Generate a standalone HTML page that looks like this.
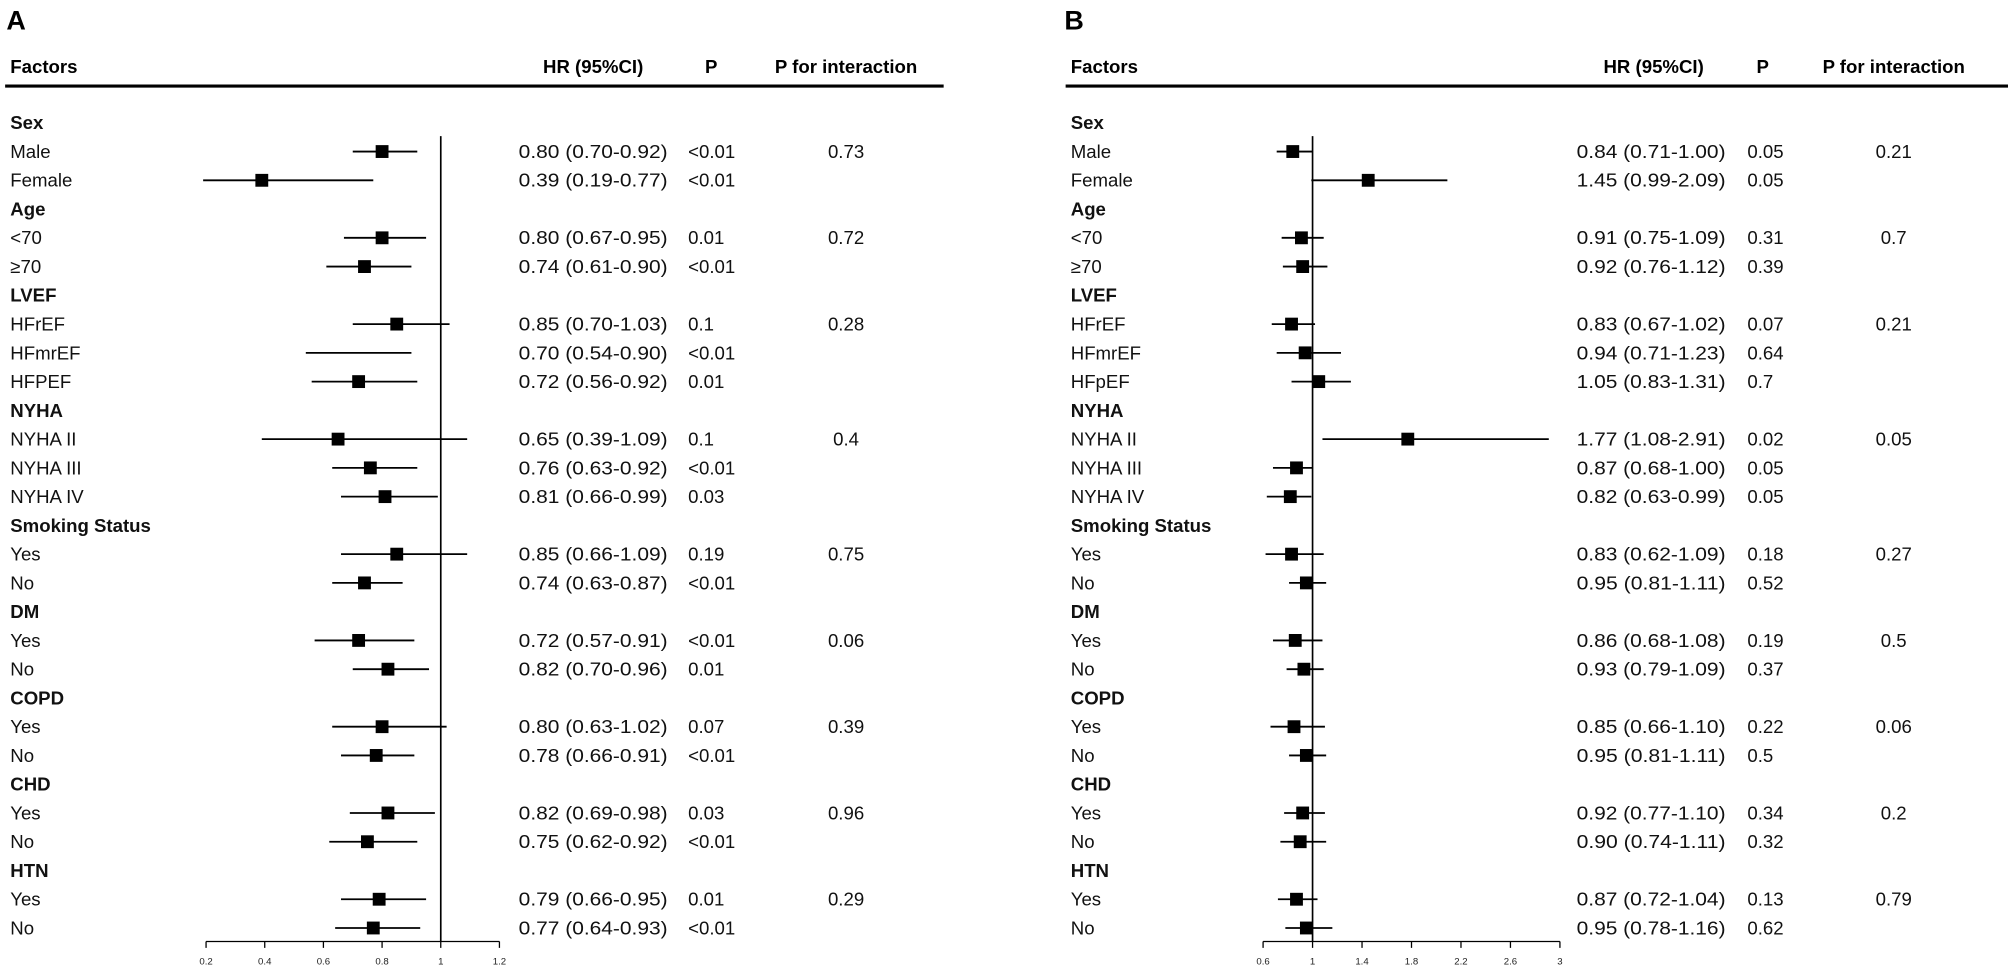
<!DOCTYPE html>
<html><head><meta charset="utf-8"><style>
html,body{margin:0;padding:0;background:#fff;}
svg{display:block;font-family:"Liberation Sans",Arial,sans-serif;}
</style></head><body>
<svg id="chart" width="2008" height="971" viewBox="0 0 1564 756" preserveAspectRatio="none" xmlns="http://www.w3.org/2000/svg"></svg>
<script>
const rowLabels = ["Sex","Male","Female","Age","<70","≥70","LVEF","HFrEF","HFmrEF","HFPEF","NYHA","NYHA II","NYHA III","NYHA IV","Smoking Status","Yes","No","DM","Yes","No","COPD","Yes","No","CHD","Yes","No","HTN","Yes","No"];
const rowLabelsB = ["Sex","Male","Female","Age","<70","≥70","LVEF","HFrEF","HFmrEF","HFpEF","NYHA","NYHA II","NYHA III","NYHA IV","Smoking Status","Yes","No","DM","Yes","No","COPD","Yes","No","CHD","Yes","No","HTN","Yes","No"];
const isHeader = [1,0,0,1,0,0,1,0,0,0,1,0,0,0,1,0,0,1,0,0,1,0,0,1,0,0,1,0,0];
const hrA = [null,0.80,0.39,null,0.80,0.74,null,0.85,0.70,0.72,null,0.65,0.76,0.81,null,0.85,0.74,null,0.72,0.82,null,0.80,0.78,null,0.82,0.75,null,0.79,0.77];
const loA = [null,0.70,0.19,null,0.67,0.61,null,0.70,0.54,0.56,null,0.39,0.63,0.66,null,0.66,0.63,null,0.57,0.70,null,0.63,0.66,null,0.69,0.62,null,0.66,0.64];
const hiA = [null,0.92,0.77,null,0.95,0.90,null,1.03,0.90,0.92,null,1.09,0.92,0.99,null,1.09,0.87,null,0.91,0.96,null,1.02,0.91,null,0.98,0.92,null,0.95,0.93];
const showBoxA = [0,1,1,0,1,1,0,1,0,1,0,1,1,1,0,1,1,0,1,1,0,1,1,0,1,1,0,1,1];
const pA = ["","<0.01","<0.01","","0.01","<0.01","","0.1","<0.01","0.01","","0.1","<0.01","0.03","","0.19","<0.01","","<0.01","0.01","","0.07","<0.01","","0.03","<0.01","","0.01","<0.01"];
const pIntA = ["","0.73","","","0.72","","","0.28","","","","0.4","","","","0.75","","","0.06","","","0.39","","","0.96","","","0.29",""];
const ticksA = [0.2,0.4,0.6,0.8,1,1.2];
const hrB = [null,0.84,1.45,null,0.91,0.92,null,0.83,0.94,1.05,null,1.77,0.87,0.82,null,0.83,0.95,null,0.86,0.93,null,0.85,0.95,null,0.92,0.90,null,0.87,0.95];
const loB = [null,0.71,0.99,null,0.75,0.76,null,0.67,0.71,0.83,null,1.08,0.68,0.63,null,0.62,0.81,null,0.68,0.79,null,0.66,0.81,null,0.77,0.74,null,0.72,0.78];
const hiB = [null,1.00,2.09,null,1.09,1.12,null,1.02,1.23,1.31,null,2.91,1.00,0.99,null,1.09,1.11,null,1.08,1.09,null,1.10,1.11,null,1.10,1.11,null,1.04,1.16];
const showBoxB = [0,1,1,0,1,1,0,1,1,1,0,1,1,1,0,1,1,0,1,1,0,1,1,0,1,1,0,1,1];
const pB = ["","0.05","0.05","","0.31","0.39","","0.07","0.64","0.7","","0.02","0.05","0.05","","0.18","0.52","","0.19","0.37","","0.22","0.5","","0.34","0.32","","0.13","0.62"];
const pIntB = ["","0.21","","","0.7","","","0.21","","","","0.05","","","","0.27","","","0.5","","","0.06","","","0.2","","","0.79",""];
const ticksB = [0.6,1,1.4,1.8,2.2,2.6,3];

const NS="http://www.w3.org/2000/svg";
const svg=document.getElementById('chart');
function mk(tag,attrs,parent){const e=document.createElementNS(NS,tag);for(const k in attrs)e.setAttribute(k,attrs[k]);(parent||svg).appendChild(e);return e;}
function txt(s,attrs,parent){const e=mk('text',attrs,parent);e.textContent=s;return e;}
const rowY = i => 95.6 + i*22.39;

function panel(cfg){
  const g=mk('g',{});
  
  
  const xs = v => cfg.x0 + (v - cfg.d0)/(cfg.d1 - cfg.d0)*(cfg.x1 - cfg.x0);
  const t=txt(cfg.letter,{x:cfg.letterX,y:23,'font-size':21,'font-weight':'bold'},g);
  
  
  const hdr=[["Factors",cfg.colLabel,'start','factors-header'],["HR (95%CI)",cfg.colHRh,'middle','hr-header'],["P",cfg.colPh,'middle','p-header'],["P for interaction",cfg.colPIh,'middle','p-interaction-header']];
  hdr.forEach(h=>{const e=txt(h[0],{x:h[1],y:57,'font-size':14.5,'font-weight':'bold','text-anchor':h[2]},g);
    
    });
  const hl=mk('line',{x1:cfg.lineL,x2:cfg.lineR,y1:67,y2:67,stroke:'#000','stroke-width':2.4},g);
  
  
  const ref=mk('line',{x1:xs(1),x2:xs(1),y1:106,y2:733,stroke:'#000','stroke-width':1.3},g);
  
  
  const ax=mk('line',{x1:xs(cfg.ticks[0]),x2:xs(cfg.ticks[cfg.ticks.length-1]),y1:733,y2:733,stroke:'#000','stroke-width':1},g);
  
  
  cfg.ticks.forEach(v=>{
    const tk=mk('line',{x1:xs(v),x2:xs(v),y1:733,y2:738,stroke:'#000','stroke-width':1},g);
    
    
    const tl=txt(String(v),{x:xs(v),y:751,'font-size':7.5,'text-anchor':'middle',fill:'#222'},g);
    
    
  });
  cfg.labels.forEach((lab,i)=>{
    const y=rowY(i);
    const l=txt(lab,{x:cfg.colLabel,y:y+5,'font-size':14.5,'font-weight':isHeader[i]?'bold':'normal',fill:'#111'},g);
    
    
    if(isHeader[i]) return;
    const ci=mk('line',{x1:xs(cfg.lo[i]),x2:xs(cfg.hi[i]),y1:y,y2:y,stroke:'#000','stroke-width':1.4},g);
    
    
    if(cfg.box[i]){
      const b=mk('rect',{x:xs(cfg.hr[i])-5,y:y-5,width:10,height:10,fill:'#000'},g);
      
      
    }
    const s=cfg.hr[i].toFixed(2)+" ("+cfg.lo[i].toFixed(2)+"-"+cfg.hi[i].toFixed(2)+")";
    const h=txt(s,{x:cfg.colHR,y:y+5,'font-size':14.5,textLength:116,lengthAdjust:'spacingAndGlyphs',fill:'#111'},g);
    
    
    const p=txt(cfg.p[i],{x:cfg.colP,y:y+5,'font-size':14.5,fill:'#111'},g);
    
    
    if(cfg.pi[i]){
      const q=txt(cfg.pi[i],{x:cfg.colPI,y:y+5,'font-size':14.5,'text-anchor':'middle',fill:'#111'},g);
      
      
    }
  });
}
panel({name:'panel-a',letter:'A',letterX:5,labels:rowLabels,hr:hrA,lo:loA,hi:hiA,box:showBoxA,p:pA,pi:pIntA,ticks:ticksA,
  d0:0.2,d1:1.2,x0:160.5,x1:389,colLabel:8,colHR:404,colP:536,colPI:659,colHRh:462,colPh:554,colPIh:659,lineL:4,lineR:735});
panel({name:'panel-b',letter:'B',letterX:829,labels:rowLabelsB,hr:hrB,lo:loB,hi:hiB,box:showBoxB,p:pB,pi:pIntB,ticks:ticksB,
  d0:0.6,d1:3,x0:983.8,x1:1215,colLabel:834,colHR:1228,colP:1361,colPI:1475,colHRh:1288,colPh:1373,colPIh:1475,lineL:830,lineR:1564});
</script>
</body></html>
